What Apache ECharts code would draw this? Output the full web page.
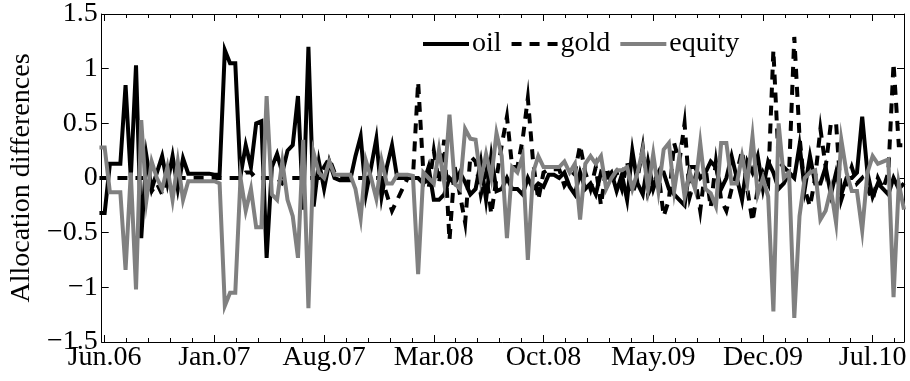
<!DOCTYPE html>
<html>
<head>
<meta charset="utf-8">
<script src="https://cdn.jsdelivr.net/npm/echarts@6/dist/echarts.min.js"></script>
<style>
html,body{margin:0;padding:0;background:#fff}
#chart{width:910px;height:381px}
</style>
</head>
<body>
<div id="chart"></div>
<script>
// 采样日期：每月 1、11、21 日，从 2006-05-21 开始
const sampleDays = [1, 11, 21]
const pointCount = 155

// 三个资产的配置差异
const oil = [
  -0.32,-0.32,0.13,0.13,0.13,0.85,0.0,1.03,-0.55,0.2,
  -0.1,0.05,0.2,-0.05,0.2,-0.1,0.18,0.04,0.04,0.04,
  0.04,0.04,0.03,0.03,1.17,1.05,1.05,0.02,0.3,0.1,
  0.5,0.52,-0.73,0.1,0.22,0.05,0.25,0.3,0.75,-0.29,
  1.2,-0.26,0.15,-0.1,0.15,0.0,-0.02,-0.02,-0.02,0.2,
  0.38,-0.15,0.1,0.36,-0.17,0.1,0.3,0.0,0.0,0.0,
  0.0,0.0,-0.05,0.1,-0.2,-0.2,-0.15,0.0,-0.05,0.05,
  -0.04,-0.15,-0.1,0.15,-0.2,0.2,-0.12,-0.1,0.0,-0.1,
  -0.1,-0.15,0.0,-0.1,-0.05,-0.08,0.03,0.03,0.0,0.05,
  -0.08,-0.15,0.05,-0.1,-0.05,-0.15,0.05,0.0,0.05,-0.12,
  0.03,-0.2,0.25,-0.05,-0.15,0.15,-0.1,0.05,0.05,-0.1,
  -0.15,-0.2,-0.25,0.1,0.1,0.0,0.05,0.15,0.1,-0.1,
  0.0,0.2,0.0,-0.2,0.15,0.05,0.2,-0.1,0.15,0.05,
  -0.1,-0.05,0.05,0.0,0.3,-0.1,0.2,-0.05,-0.05,0.1,
  -0.15,0.05,-0.15,0.0,0.0,0.05,0.56,0.05,-0.17,-0.05,
  -0.1,-0.15,0.0,-0.1,-0.05
]
const gold = [
  0,0,0,0,0,0,0,0,0,0,
  -0.12,-0.05,-0.15,0,0,0,0,0,0,0,
  0,0,0,0,0,0,0,0,0.05,0.05,
  0,0,0,0,0,-0.05,0,0,0,0,
  0,0,0,0.1,0.18,0.05,0,0,0,0,
  0,0,0,0,0,-0.15,-0.3,-0.2,-0.1,0,
  0,0.88,0.05,-0.1,0.25,-0.05,0.35,-0.57,0.1,-0.15,
  -0.41,0.2,0.15,-0.15,0.05,-0.33,0,0.3,0.56,0.1,
  0.1,0.35,0.73,0.15,-0.2,0.05,0.08,0.08,0.08,-0.07,
  0,0.05,0.3,0.05,-0.1,0.1,-0.25,0.1,-0.05,0.05,
  -0.1,0.15,-0.15,0,0.28,-0.15,-0.05,0.05,-0.35,-0.2,
  0.32,0.15,0.5,-0.17,0,-0.3,0.1,-0.27,0.15,-0.2,
  -0.3,-0.1,0.05,0.25,-0.1,-0.4,-0.1,0.05,-0.05,1.17,
  0.15,0.1,0.05,1.29,0.38,-0.1,-0.26,0,0.45,0.1,
  0.5,0.5,-0.2,-0.05,0.1,-0.05,0,-0.1,-0.2,0,
  -0.1,0.05,1.05,0.3,0.3
]
const equity = [
  0.28,0.28,-0.13,-0.13,-0.13,-0.84,0.05,-1.02,0.53,-0.2,
  0.15,0.0,-0.1,0.1,-0.2,0.15,-0.2,-0.03,-0.03,-0.03,
  -0.03,-0.03,-0.03,-0.05,-1.17,-1.05,-1.05,0.0,-0.3,-0.1,
  -0.45,-0.45,0.75,-0.15,-0.2,0.15,-0.2,-0.35,-0.73,0.35,
  -1.19,0.23,0.05,0.0,0.15,0.03,0.03,0.03,0.03,-0.1,
  -0.37,0.16,0.0,-0.19,0.16,-0.05,-0.05,0.03,0.03,0.03,
  0.02,-0.88,0.05,0.0,-0.05,0.26,-0.05,0.58,-0.05,-0.1,
  0.45,0.36,0.35,-0.02,0.22,0.0,0.41,0.2,-0.55,0.1,
  0.05,0.2,-0.75,0.05,0.2,0.1,0.1,0.1,0.1,0.15,
  0.05,0.13,-0.38,0.13,0.2,0.13,0.2,-0.1,0.0,0.07,
  0.07,0.1,-0.1,0.05,0.26,-0.1,0.22,-0.12,0.26,0.32,
  -0.12,0.2,-0.17,0.05,-0.1,0.32,-0.1,-0.14,-0.26,0.32,
  0.32,-0.05,-0.05,0.2,-0.05,0.38,-0.15,0.0,-0.17,-1.22,
  0.5,0.0,0.05,-1.28,-0.35,0.0,0.05,0.07,-0.38,-0.3,
  -0.1,-0.41,0.35,0.05,-0.12,-0.12,-0.48,0.05,0.2,0.13,
  0.15,0.17,-1.09,-0.05,-0.29
]

// 横轴刻度标签（每 7 个月一个）
const tickLabels = ['Jun.06','Jan.07','Aug.07','Mar.08','Oct.08','May.09','Dec.09','Jul.10']

// 以 2006 年 6 月为 0 的月份坐标
const xs = []
for (let k = 0; k < pointCount; k++) {
  const slot = (2 + k) % 3
  const monthOffset = Math.floor((2 + k) / 3) - 1
  xs.push(monthOffset + (sampleDays[slot] - 1) / 30)
}
const majorTicks = tickLabels.map((_, i) => i * 7)
const minorTicks = []
for (let j = 1; j * 1.4 <= 51; j++) {
  if (j % 5 !== 0) minorTicks.push(+(j * 1.4).toFixed(2))
}

const font = 'Liberation Serif'
const fontSize = 28
const myChart = echarts.init(document.getElementById('chart'))

const xBase = (pos, ticks, len, showLine, showLabel) => ({
  type: 'value',
  min: -0.19,
  max: 51,
  position: pos,
  axisLine: { show: showLine, onZero: false, lineStyle: { color: '#000', width: 1 } },
  axisTick: { show: true, inside: true, length: len, customValues: ticks, lineStyle: { color: '#000', width: 1 } },
  axisLabel: showLabel ? {
    customValues: ticks,
    formatter: v => tickLabels[Math.round(v / 7)],
    color: '#000', fontFamily: font, fontSize, margin: 2
  } : { show: false },
  splitLine: { show: false }
})

const yBase = (pos, showLabel) => ({
  type: 'value',
  min: -1.5,
  max: 1.5,
  interval: 0.5,
  position: pos,
  axisLine: { show: true, onZero: false, lineStyle: { color: '#000', width: 1 } },
  axisTick: { show: true, inside: true, length: 7, lineStyle: { color: '#000', width: 1 } },
  axisLabel: showLabel ? {
    formatter: v => v < 0 ? '\u2212' + Math.abs(v) : String(v),
    color: '#000', fontFamily: font, fontSize, margin: 4
  } : { show: false },
  splitLine: { show: false }
})

const yLeft = yBase('left', true)
yLeft.name = 'Allocation differences'
yLeft.nameLocation = 'middle'
yLeft.nameGap = 58
yLeft.nameTextStyle = { color: '#000', fontFamily: font, fontSize }

const lineSeries = (name, values, color, type) => ({
  name,
  type: 'line',
  xAxisIndex: 0,
  yAxisIndex: 0,
  data: values.map((v, i) => [xs[i], v]),
  symbol: 'none',
  showSymbol: false,
  lineStyle: { color, width: 4, type, cap: 'butt', join: 'miter' },
  itemStyle: { color },
  emphasis: { disabled: true }
})

// 图例图标：实线用矩形，虚线用三段矩形
const dashIcon = 'path://M0,0h10v4h-10z M18,0h10v4h-10z M36,0h10v4h-10z'

myChart.setOption({
  animation: false,
  textStyle: { fontFamily: font },
  grid: { left: 100, right: 6, top: 14, bottom: 39, containLabel: false },
  legend: {
    left: 418,
    top: 25,
    itemWidth: 46,
    itemHeight: 4,
    itemGap: 10,
    data: [
      { name: 'oil', icon: 'rect' },
      { name: 'gold', icon: dashIcon },
      { name: 'equity', icon: 'rect' }
    ],
    textStyle: { color: '#000', fontFamily: font, fontSize, padding: [0, 0, 0, -2] }
  },
  xAxis: [
    xBase('bottom', majorTicks, 7, true, true),
    xBase('top', majorTicks, 7, true, false),
    xBase('bottom', minorTicks, 4, false, false),
    xBase('top', minorTicks, 4, false, false)
  ],
  yAxis: [yLeft, yBase('right', false)],
  series: [
    lineSeries('oil', oil, '#000000', 'solid'),
    lineSeries('gold', gold, '#000000', [10, 8]),
    lineSeries('equity', equity, '#808080', 'solid')
  ]
})
</script>
</body>
</html>
